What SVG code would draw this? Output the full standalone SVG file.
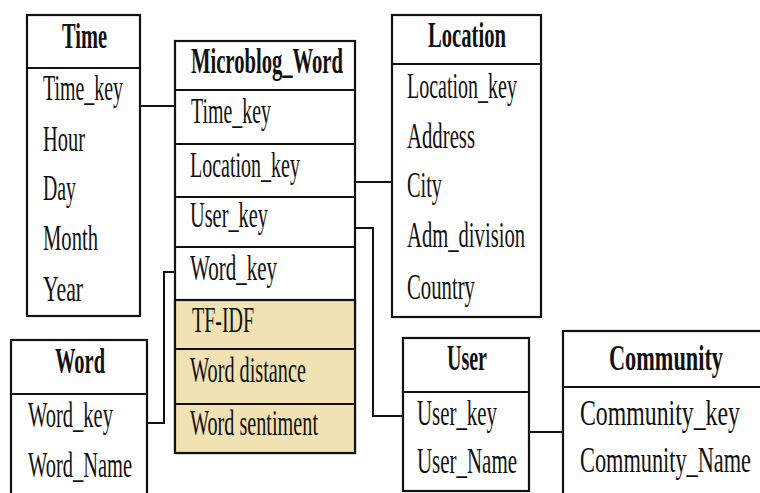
<svg xmlns="http://www.w3.org/2000/svg" width="760" height="493" viewBox="0 0 760 493">
  <style>
    .box { fill: #ffffff; stroke: #111111; stroke-width: 2.2; }
    .hl { fill: #f0e2b2; stroke: #111111; stroke-width: 2.2; }
    .sep { stroke: #111111; stroke-width: 2.2; fill: none; }
    .link { stroke: #111111; stroke-width: 2; fill: none; }
    text { font-family: "Liberation Serif", "Times New Roman", serif; font-size: 36px; fill: #111111; }
    .hd { font-weight: bold; }
  </style>
  <rect width="760" height="493" fill="#ffffff"/>

  <!-- connectors between tables -->
  <g id="connectors">
    <path class="link" d="M140,106 H175"/>
    <path class="link" d="M355,182 H392"/>
    <path class="link" d="M355,228 H373 V416 H403"/>
    <path class="link" d="M175,272 H164 V423 H147"/>
    <path class="link" d="M529,432 H563"/>
  </g>

  <!-- Time dimension -->
  <g id="time">
    <rect class="box" x="27" y="15" width="113" height="301"/>
    <line class="sep" x1="27" y1="68" x2="140" y2="68"/>
    <text class="hd" x="62" y="48" textLength="45" lengthAdjust="spacingAndGlyphs">Time</text>
    <text x="43" y="100" textLength="80" lengthAdjust="spacingAndGlyphs">Time_key</text>
    <text x="43" y="151" textLength="42" lengthAdjust="spacingAndGlyphs">Hour</text>
    <text x="43" y="200" textLength="33" lengthAdjust="spacingAndGlyphs">Day</text>
    <text x="43" y="250" textLength="55" lengthAdjust="spacingAndGlyphs">Month</text>
    <text x="43" y="301" textLength="40" lengthAdjust="spacingAndGlyphs">Year</text>
  </g>

  <!-- Microblog_Word fact table -->
  <g id="microblog-word">
    <rect class="box" x="175" y="41" width="180" height="412"/>
    <rect class="hl" x="175" y="300" width="180" height="153"/>
    <line class="sep" x1="175" y1="90" x2="355" y2="90"/>
    <line class="sep" x1="175" y1="144" x2="355" y2="144"/>
    <line class="sep" x1="175" y1="197" x2="355" y2="197"/>
    <line class="sep" x1="175" y1="247" x2="355" y2="247"/>
    <line class="sep" x1="175" y1="349" x2="355" y2="349"/>
    <line class="sep" x1="175" y1="404" x2="355" y2="404"/>
    <text class="hd" x="191" y="73" textLength="152" lengthAdjust="spacingAndGlyphs">Microblog_Word</text>
    <text x="191" y="123" textLength="80" lengthAdjust="spacingAndGlyphs">Time_key</text>
    <text x="190" y="177" textLength="110" lengthAdjust="spacingAndGlyphs">Location_key</text>
    <text x="190" y="227" textLength="78" lengthAdjust="spacingAndGlyphs">User_key</text>
    <text x="190" y="280" textLength="87" lengthAdjust="spacingAndGlyphs">Word_key</text>
    <text x="192" y="332" textLength="62" lengthAdjust="spacingAndGlyphs">TF-IDF</text>
    <text x="190" y="382" textLength="116" lengthAdjust="spacingAndGlyphs">Word distance</text>
    <text x="190" y="435" textLength="128" lengthAdjust="spacingAndGlyphs">Word sentiment</text>
  </g>

  <!-- Location dimension -->
  <g id="location">
    <rect class="box" x="392" y="15" width="149" height="302"/>
    <line class="sep" x1="392" y1="64" x2="541" y2="64"/>
    <text class="hd" x="428" y="47" textLength="78" lengthAdjust="spacingAndGlyphs">Location</text>
    <text x="407" y="98" textLength="110" lengthAdjust="spacingAndGlyphs">Location_key</text>
    <text x="407" y="148" textLength="68" lengthAdjust="spacingAndGlyphs">Address</text>
    <text x="407" y="197" textLength="35" lengthAdjust="spacingAndGlyphs">City</text>
    <text x="407" y="247" textLength="118" lengthAdjust="spacingAndGlyphs">Adm_division</text>
    <text x="407" y="299" textLength="68" lengthAdjust="spacingAndGlyphs">Country</text>
  </g>

  <!-- Word dimension -->
  <g id="word">
    <rect class="box" x="11" y="340" width="136" height="160"/>
    <line class="sep" x1="11" y1="394" x2="147" y2="394"/>
    <text class="hd" x="55" y="373" textLength="50" lengthAdjust="spacingAndGlyphs">Word</text>
    <text x="28" y="427" textLength="85" lengthAdjust="spacingAndGlyphs">Word_key</text>
    <text x="28" y="477" textLength="104" lengthAdjust="spacingAndGlyphs">Word_Name</text>
  </g>

  <!-- User dimension -->
  <g id="user">
    <rect class="box" x="403" y="338" width="126" height="153"/>
    <line class="sep" x1="403" y1="392" x2="529" y2="392"/>
    <text class="hd" x="447" y="370" textLength="40" lengthAdjust="spacingAndGlyphs">User</text>
    <text x="417" y="425" textLength="80" lengthAdjust="spacingAndGlyphs">User_key</text>
    <text x="417" y="473" textLength="100" lengthAdjust="spacingAndGlyphs">User_Name</text>
  </g>

  <!-- Community dimension (runs past the right edge); labels condensed by a horizontal scale -->
  <g id="community">
    <rect class="box" x="563" y="331" width="210" height="170"/>
    <line class="sep" x1="563" y1="387" x2="773" y2="387"/>
    <text class="hd" transform="translate(609,370) scale(0.66,1)" textLength="172.7" lengthAdjust="spacingAndGlyphs">Community</text>
    <text transform="translate(580,425) scale(0.66,1)" textLength="242.4" lengthAdjust="spacingAndGlyphs">Community_key</text>
    <text transform="translate(580,472) scale(0.62,1)">Community_Name</text>
  </g>
</svg>
